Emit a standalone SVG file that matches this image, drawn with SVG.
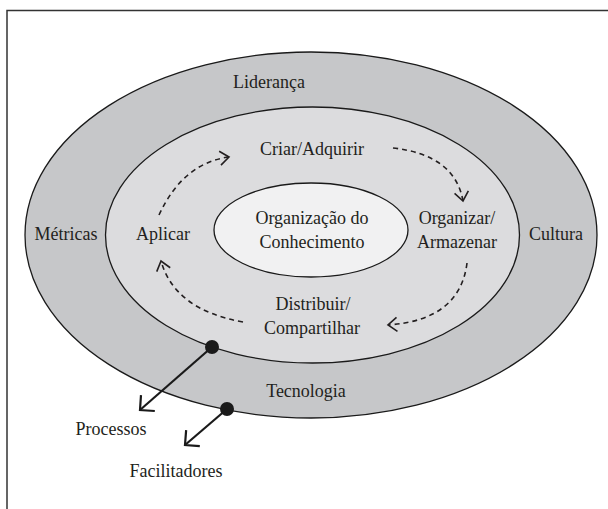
<svg xmlns="http://www.w3.org/2000/svg" width="608" height="509" viewBox="0 0 608 509">
  <style>
    text { font-family: 'Liberation Serif', 'DejaVu Serif', serif; font-size: 18px; fill: #231f20; text-anchor: middle; }
    .ring { stroke: #1a1a1a; stroke-width: 1.3; }
    .dash { fill: none; stroke: #231f20; stroke-width: 1.6; stroke-dasharray: 5 4; }
    .solid { fill: none; stroke: #1a1a1a; stroke-width: 2.2; }
  </style>
  <defs>
    <marker id="openDash" markerUnits="userSpaceOnUse" markerWidth="20" markerHeight="20" refX="0" refY="0" viewBox="-12 -10 14 20" orient="auto">
      <path d="M-9,-7 L0,0 L-9,7" fill="none" stroke="#231f20" stroke-width="1.6" stroke-dasharray="none"/>
    </marker>
    <marker id="openSolid" markerUnits="userSpaceOnUse" markerWidth="24" markerHeight="24" refX="0" refY="0" viewBox="-13 -12 16 24" orient="auto">
      <path d="M-10.5,-10.5 L0,0 L-10.5,10.5" fill="none" stroke="#1a1a1a" stroke-width="2.2"/>
    </marker>
  </defs>

  <rect width="608" height="509" fill="#ffffff"/>
  <g id="frame">
    <path d="M7,509 L7,10.5 L608,10.5" fill="none" stroke="#333333" stroke-width="1.5"/>
  </g>

  <g id="outer-ring" font-family="Liberation Serif, serif">
    <ellipse class="ring" cx="311" cy="235" rx="286" ry="183" fill="#c6c7c9"/>
    <text x="269" y="88">Liderança</text>
    <text x="66" y="240">Métricas</text>
    <text x="556" y="240">Cultura</text>
    <text x="306" y="397">Tecnologia</text>
  </g>

  <g id="middle-ring">
    <ellipse class="ring" cx="312.5" cy="235" rx="207" ry="128" fill="#dcdcde"/>
  </g>

  <g id="core">
    <ellipse class="ring" cx="311" cy="230" rx="97" ry="47" fill="#f1f1f2"/>
    <text x="312" y="224">Organização do</text>
    <text x="312" y="248">Conhecimento</text>
  </g>

  <g id="criar">
    <text x="312" y="155">Criar/Adquirir</text>
  </g>
  <g id="organizar">
    <text x="457" y="224">Organizar/</text>
    <text x="457" y="248">Armazenar</text>
  </g>
  <g id="distribuir">
    <text x="313" y="310">Distribuir/</text>
    <text x="312" y="334">Compartilhar</text>
  </g>
  <g id="aplicar">
    <text x="163" y="240">Aplicar</text>
  </g>

  <g id="processos">
    <text x="111" y="435">Processos</text>
  </g>
  <g id="facilitadores">
    <text x="176" y="477">Facilitadores</text>
  </g>

  <g id="connectors">
    <path class="dash" d="M159,215 Q183,163 229,157" marker-end="url(#openDash)"/>
    <path class="dash" d="M393,148 Q455,155 463,201" marker-end="url(#openDash)"/>
    <path class="dash" d="M467,263 Q460,320 388,325" marker-end="url(#openDash)"/>
    <path class="dash" d="M243,322 Q175,310 161,261" marker-end="url(#openDash)"/>

    <circle cx="212" cy="347" r="7" fill="#1a1a1a"/>
    <path class="solid" d="M212,347 L140,410" marker-end="url(#openSolid)"/>
    <circle cx="227" cy="409" r="7" fill="#1a1a1a"/>
    <path class="solid" d="M227,409 L185,445" marker-end="url(#openSolid)"/>
  </g>
</svg>
